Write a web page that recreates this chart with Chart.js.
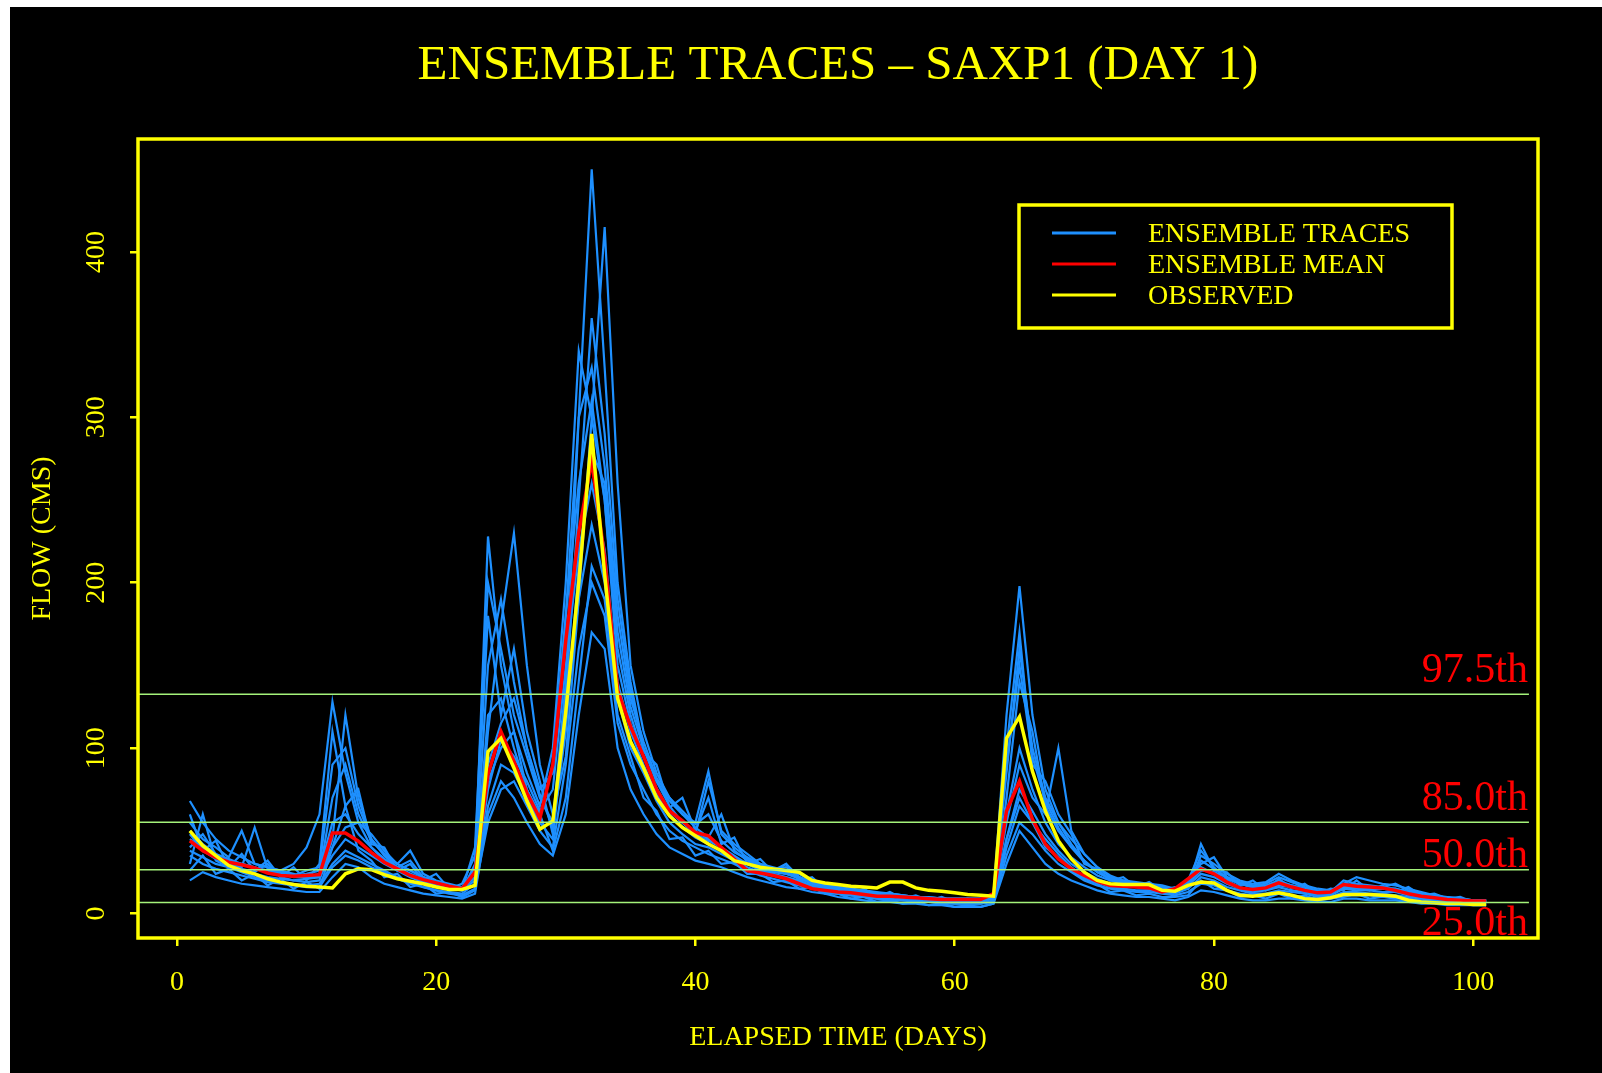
<!DOCTYPE html>
<html>
<head>
<meta charset="utf-8">
<title>Ensemble traces - SAXP1 (Day 1)</title>
<script src="https://cdn.jsdelivr.net/npm/chart.js@4.4.0/dist/chart.umd.min.js"></script>
<style>
  html, body { margin: 0; padding: 0; background: #fff; }
  #wrap { position: absolute; left: 10px; top: 7px; width: 1592px; height: 1066px; background: #000; }
</style>
</head>
<body>
<div id="wrap"><canvas id="chart" width="1592" height="1066"></canvas></div>
<script>
// elapsed days (x) and axis ticks
const days = Array.from({ length: 101 }, (_, i) => i + 1);
const xTicks = [0, 20, 40, 60, 80, 100];
const yTicks = [0, 100, 200, 300, 400];

// observed flow (CMS)
const observed = [
  50, 41, 35, 29, 26, 24, 21, 19, 17.5, 16.5,
  16, 15.5, 24, 27, 26.5, 23.5, 21, 19.5, 18, 16,
  14.5, 14.5, 17, 98, 106, 88, 68, 51, 56, 122,
  200, 290, 205, 130, 104, 88, 70, 59, 52, 47,
  42, 38, 32, 30, 28, 27, 26, 25, 20, 18.5,
  17.5, 16.5, 16, 15.5, 19, 19, 15.5, 14, 13.5, 12.5,
  11.5, 11, 10.5, 106, 119, 86, 62, 44, 33, 25,
  20, 18, 17.5, 17.5, 17.5, 14, 13.5, 17, 19, 18.5,
  14, 11, 10.5, 11.5, 12.5, 11, 9, 8.5, 9.5, 11.5,
  11.5, 11.5, 11, 10.5, 8, 7, 6.5, 6, 6, 5.5,
  5.5
];

// ensemble mean
const ensMean = [
  44, 38, 34, 31, 29.5, 27.5, 24.5, 23, 22.5, 23,
  23.5, 48.7, 48.7, 43.7, 37, 31, 27, 23, 20.5, 18.5,
  16.5, 15, 25, 84, 110, 92, 73, 57.5, 90, 165,
  230, 274, 215, 135, 113, 95, 75, 62, 56, 49,
  47, 40, 33, 26, 24.5, 23, 21, 18, 15, 14,
  13, 12.5, 11.5, 10.5, 10.5, 10, 9.5, 9, 8.5, 8.5,
  8.5, 8.5, 12, 62, 80, 57, 42, 33, 27, 23,
  19.5, 17, 16.5, 16, 15.5, 13, 15, 21, 27, 24,
  19, 15.5, 14.5, 15.5, 18.5, 16, 14, 12.5, 13, 17.5,
  16.5, 16, 15.5, 14, 12, 10.5, 9.5, 8.5, 8, 7.5,
  7.5
];

// individual ensemble traces
const traceA = [
  68, 55, 45, 38, 34, 30, 28, 26, 30, 40,
  60, 128, 85, 55, 40, 32, 28, 24, 20, 17,
  15, 14, 40, 200, 160, 120, 95, 70, 55, 140,
  300, 450, 330, 200, 140, 100, 80, 65, 55, 48,
  80, 50, 42, 36, 30, 28, 26, 24, 20, 18,
  16, 15, 14, 13, 12, 11, 10, 10, 9, 9,
  9, 9, 10, 85, 160, 100, 70, 55, 45, 36,
  28, 22, 20, 18, 17, 16, 14, 16, 35, 30,
  24, 20, 18, 19, 24, 20, 17, 15, 14, 18,
  22, 20, 18, 17, 15, 13, 11, 10, 9, 8,
  8
];
const traceB = [
  40, 48, 36, 30, 27, 25, 30, 22, 20, 19,
  20, 45, 120, 70, 45, 35, 28, 32, 22, 19,
  17, 15, 22, 110, 175, 230, 150, 90, 60, 95,
  190, 300, 415, 260, 150, 110, 85, 70, 60, 52,
  46, 60, 38, 32, 28, 26, 30, 22, 18, 16,
  14, 13, 12, 12, 11, 10, 10, 9, 9, 8,
  8, 8, 9, 70, 140, 110, 65, 50, 40, 32,
  25, 21, 19, 18, 17, 15, 14, 20, 30, 34,
  22, 18, 16, 15, 17, 16, 15, 13, 13, 16,
  15, 14, 16, 18, 14, 12, 10, 9, 9, 8,
  8
];
const traceC = [
  45, 40, 34, 32, 30, 28, 26, 24, 22, 22,
  24, 70, 90, 60, 44, 36, 30, 26, 22, 19,
  16, 14, 30, 228, 150, 110, 85, 65, 100, 200,
  340, 300, 250, 160, 120, 95, 75, 62, 55, 50,
  45, 40, 35, 30, 27, 25, 24, 22, 19, 17,
  15, 14, 13, 12, 11, 10, 10, 9, 9, 8,
  8, 8, 12, 60, 100, 75, 55, 42, 34, 28,
  23, 20, 18, 17, 16, 15, 13, 18, 28, 24,
  20, 16, 14, 15, 18, 16, 14, 12, 12, 17,
  16, 15, 15, 14, 13, 11, 10, 9, 8, 8,
  7
];
const traceD = [
  50, 42, 36, 33, 30, 28, 25, 24, 23, 24,
  26, 55, 60, 48, 40, 33, 28, 24, 21, 18,
  16, 15, 25, 120, 130, 100, 75, 58, 90, 180,
  260, 310, 250, 150, 115, 95, 76, 62, 55, 48,
  44, 40, 34, 30, 28, 26, 24, 21, 18, 16,
  14, 13, 12, 11, 11, 10, 9, 9, 8, 8,
  8, 8, 11, 120, 198, 120, 75, 55, 42, 32,
  25, 21, 19, 18, 17, 16, 14, 20, 38, 28,
  21, 18, 16, 17, 20, 17, 15, 13, 12, 18,
  17, 16, 15, 14, 12, 11, 10, 9, 8, 8,
  7
];
const traceE = [
  20, 25, 22, 20, 18, 17, 16, 15, 14, 13,
  13, 22, 30, 28, 22, 18, 16, 14, 12, 11,
  10, 9, 12, 60, 80, 70, 55, 42, 35, 60,
  120, 170, 160, 100, 75, 60, 48, 40, 36, 32,
  30, 28, 25, 22, 20, 18, 16, 15, 13, 12,
  10, 9, 8, 7, 7, 6, 6, 5, 5, 4,
  4, 4, 6, 30, 50, 40, 30, 24, 20, 17,
  14, 12, 11, 10, 10, 9, 8, 10, 14, 13,
  11, 9, 8, 8, 9, 9, 8, 7, 7, 9,
  9, 8, 8, 8, 7, 6, 6, 5, 5, 5,
  5
];
const traceF = [
  55, 45, 40, 34, 50, 30, 28, 26, 24, 22,
  22, 40, 52, 55, 48, 38, 30, 38, 24, 20,
  18, 16, 22, 90, 115, 130, 100, 72, 52, 110,
  210, 280, 260, 170, 125, 100, 80, 68, 60, 55,
  86, 48, 40, 34, 30, 27, 25, 22, 19, 17,
  15, 14, 13, 12, 12, 11, 10, 10, 9, 9,
  9, 9, 10, 55, 90, 70, 60, 100, 50, 36,
  28, 23, 20, 19, 18, 17, 15, 18, 26, 25,
  22, 19, 17, 18, 22, 19, 16, 14, 13, 20,
  18, 17, 16, 15, 13, 12, 10, 10, 9, 8,
  8
];
const traceG = [
  38, 34, 30, 28, 26, 24, 22, 21, 20, 21,
  22, 35, 45, 40, 35, 30, 26, 22, 19, 17,
  15, 14, 20, 75, 105, 95, 80, 62, 75, 150,
  220, 260, 220, 140, 110, 90, 72, 60, 52, 46,
  42, 38, 34, 30, 26, 24, 22, 20, 17, 15,
  13, 12, 11, 10, 10, 9, 9, 8, 8, 7,
  7, 7, 9, 45, 75, 62, 48, 38, 30, 25,
  21, 18, 17, 16, 15, 14, 13, 17, 24, 22,
  18, 15, 13, 14, 16, 14, 13, 11, 11, 15,
  14, 14, 13, 13, 11, 10, 9, 8, 8, 7,
  6
];
const traceH = [
  30, 60, 32, 28, 25, 22, 20, 19, 18, 17,
  18, 30, 38, 34, 30, 26, 22, 19, 16, 14,
  13, 12, 18, 65, 90, 85, 70, 55, 45, 120,
  190, 235, 200, 130, 100, 85, 68, 55, 48, 42,
  40, 36, 32, 28, 25, 23, 21, 19, 16, 14,
  12, 11, 10, 9, 9, 8, 8, 7, 7, 6,
  6, 6, 8, 40, 65, 55, 45, 36, 28, 22,
  19, 16, 15, 14, 14, 13, 12, 15, 22, 20,
  16, 14, 12, 12, 14, 13, 12, 10, 10, 13,
  13, 12, 12, 11, 10, 9, 8, 7, 7, 6,
  6
];
const traceI = [
  48, 38, 33, 30, 28, 52, 27, 25, 23, 26,
  28, 90, 100, 65, 45, 36, 30, 26, 22, 18,
  16, 15, 28, 150, 190, 140, 100, 75, 85, 180,
  300, 330, 270, 180, 130, 104, 82, 70, 62, 54,
  60, 44, 37, 33, 29, 27, 28, 24, 20, 17,
  15, 14, 13, 12, 12, 11, 10, 9, 9, 8,
  8, 8, 10, 90, 150, 95, 68, 52, 40, 31,
  25, 21, 19, 18, 17, 16, 14, 19, 32, 27,
  22, 18, 16, 16, 19, 17, 15, 13, 12, 17,
  16, 15, 15, 15, 13, 12, 10, 9, 8, 7,
  7
];
const traceJ = [
  35, 30, 27, 25, 23, 21, 19, 18, 17, 16,
  16, 28, 35, 32, 28, 25, 21, 18, 16, 14,
  12, 11, 15, 55, 75, 80, 65, 50, 40, 90,
  160, 200, 180, 115, 90, 75, 60, 50, 44, 40,
  36, 33, 30, 26, 23, 21, 19, 17, 15, 13,
  12, 11, 10, 9, 8, 8, 7, 7, 6, 6,
  6, 6, 7, 35, 55, 48, 38, 30, 25, 20,
  17, 15, 14, 13, 13, 12, 11, 13, 18, 17,
  14, 12, 11, 11, 12, 11, 10, 9, 9, 11,
  11, 11, 10, 10, 9, 8, 7, 7, 6, 6,
  5
];
const traceK = [
  60, 38, 44, 28, 36, 26, 32, 22, 28, 20,
  30, 110, 65, 75, 42, 40, 26, 30, 20, 24,
  15, 18, 35, 180, 120, 160, 110, 80, 48, 130,
  250, 360, 290, 190, 135, 98, 90, 64, 70, 50,
  70, 42, 46, 30, 33, 25, 30, 20, 22, 15,
  17, 12, 15, 10, 13, 9, 11, 8, 10, 7,
  9, 7, 11, 100, 170, 90, 80, 60, 48, 30,
  27, 20, 22, 16, 19, 14, 16, 15, 42, 26,
  25, 17, 20, 14, 21, 15, 18, 12, 15, 14,
  20, 14, 17, 13, 16, 11, 12, 9, 10, 7,
  8
];
const traceL = [
  26, 35, 24, 27, 20, 24, 17, 21, 15, 19,
  15, 40, 65, 38, 32, 22, 24, 16, 18, 12,
  13, 10, 14, 80, 100, 110, 75, 60, 38, 70,
  140, 210, 190, 120, 95, 70, 62, 45, 46, 35,
  38, 30, 31, 24, 24, 19, 20, 15, 16, 12,
  12, 9, 10, 7, 8, 6, 7, 5, 6, 4,
  5, 4, 6, 45, 70, 55, 40, 34, 26, 21,
  18, 13, 14, 11, 12, 10, 10, 11, 20, 15,
  14, 10, 11, 9, 12, 9, 11, 8, 9, 10,
  12, 9, 10, 9, 9, 7, 8, 6, 6, 5,
  5
];
const traces = [traceA, traceB, traceC, traceD, traceE, traceF,
  traceG, traceH, traceI, traceJ, traceK, traceL];

// flow percentiles (horizontal reference lines)
const pctLabels = ['97.5th', '85.0th', '50.0th', '25.0th'];
const pctValues = [132.6, 55.2, 26.4, 6.7];
const pctSpan = [-3, 104.3];

const legendNames = ['ENSEMBLE TRACES', 'ENSEMBLE MEAN', 'OBSERVED'];

const YELLOW = '#ffff00';
const RED = '#ff0000';
const BLUE = '#1e90ff';
const GREEN = '#a4f27a';
const FONT = 'Liberation Serif';

function series(vals, color, width) {
  return {
    data: days.map((d, i) => ({ x: d, y: vals[i] })),
    borderColor: color,
    borderWidth: width,
    pointRadius: 0,
    tension: 0,
    fill: false
  };
}

const datasets = [];
pctValues.forEach(v => {
  datasets.push({
    data: pctSpan.map(x => ({ x: x, y: v })),
    borderColor: GREEN, borderWidth: 1.5, pointRadius: 0, fill: false
  });
});
datasets.push(series(observed, YELLOW, 3.5));
datasets.push(series(ensMean, RED, 3.5));
traces.forEach(t => datasets.push(series(t, BLUE, 2.2)));

// box, percentile labels and legend
const decorations = {
  id: 'decorations',
  afterDatasetsDraw(chart) {
    const { ctx, chartArea: a, scales: { y } } = chart;
    ctx.save();

    ctx.font = `42px "${FONT}"`;
    ctx.fillStyle = RED;
    ctx.textAlign = 'right';
    ctx.textBaseline = 'alphabetic';
    const shift = [-12, -12, -3, 33];
    pctLabels.forEach((t, i) => {
      ctx.fillText(t, a.right - 10, y.getPixelForValue(pctValues[i]) + shift[i]);
    });

    ctx.strokeStyle = YELLOW;
    ctx.lineWidth = 3.5;
    ctx.strokeRect(a.left, a.top, a.right - a.left, a.bottom - a.top);

    // legend box
    const bx = a.right - 519, by = a.top + 66, bw = 433, bh = 123;
    ctx.strokeRect(bx, by, bw, bh);
    const colors = [BLUE, RED, YELLOW];
    ctx.font = `28px "${FONT}"`;
    ctx.textAlign = 'left';
    ctx.textBaseline = 'middle';
    legendNames.forEach((name, i) => {
      const ly = by + 28 + i * 31;
      ctx.strokeStyle = colors[i];
      ctx.lineWidth = 3;
      ctx.beginPath();
      ctx.moveTo(bx + 33, ly);
      ctx.lineTo(bx + 97, ly);
      ctx.stroke();
      ctx.fillStyle = YELLOW;
      ctx.fillText(name, bx + 129, ly + 2);
    });
    ctx.restore();
  }
};

new Chart(document.getElementById('chart'), {
  type: 'line',
  data: { datasets },
  options: {
    responsive: false,
    animation: false,
    layout: { padding: { left: 0, right: 64, top: 0, bottom: 0 } },
    plugins: {
      legend: { display: false },
      tooltip: { enabled: false },
      title: {
        display: true,
        fullSize: false,
        text: 'ENSEMBLE TRACES \u2013 SAXP1 (DAY 1)',
        color: YELLOW,
        font: { family: FONT, size: 49, weight: 'normal', lineHeight: 1 },
        padding: { top: 35, bottom: 48 }
      }
    },
    scales: {
      x: {
        type: 'linear',
        min: -3,
        max: 105,
        afterBuildTicks: s => { s.ticks = xTicks.map(v => ({ value: v })); },
        afterFit: s => { s.height = 135; },
        grid: { drawOnChartArea: false, drawTicks: true, tickLength: 8, color: YELLOW, lineWidth: 2.5 },
        border: { display: false },
        ticks: { color: YELLOW, font: { family: FONT, size: 28 }, padding: 20, maxRotation: 0 },
        title: {
          display: true, text: 'ELAPSED TIME (DAYS)', color: YELLOW,
          font: { family: FONT, size: 28, lineHeight: 1 }, padding: { top: 0, bottom: 21 }
        }
      },
      y: {
        type: 'linear',
        min: -14.8,
        max: 468.3,
        afterBuildTicks: s => { s.ticks = yTicks.map(v => ({ value: v })); },
        afterFit: s => { s.width = 128; },
        grid: { drawOnChartArea: false, drawTicks: true, tickLength: 8, color: YELLOW, lineWidth: 2.5 },
        border: { display: false },
        ticks: {
          color: YELLOW, font: { family: FONT, size: 28 },
          minRotation: 90, maxRotation: 90, crossAlign: 'center', padding: 12
        },
        title: {
          display: true, text: 'FLOW (CMS)', color: YELLOW,
          font: { family: FONT, size: 28, lineHeight: 1 }, padding: { top: 18.5, bottom: 0 }
        }
      }
    }
  },
  plugins: [decorations]
});
</script>
</body>
</html>
